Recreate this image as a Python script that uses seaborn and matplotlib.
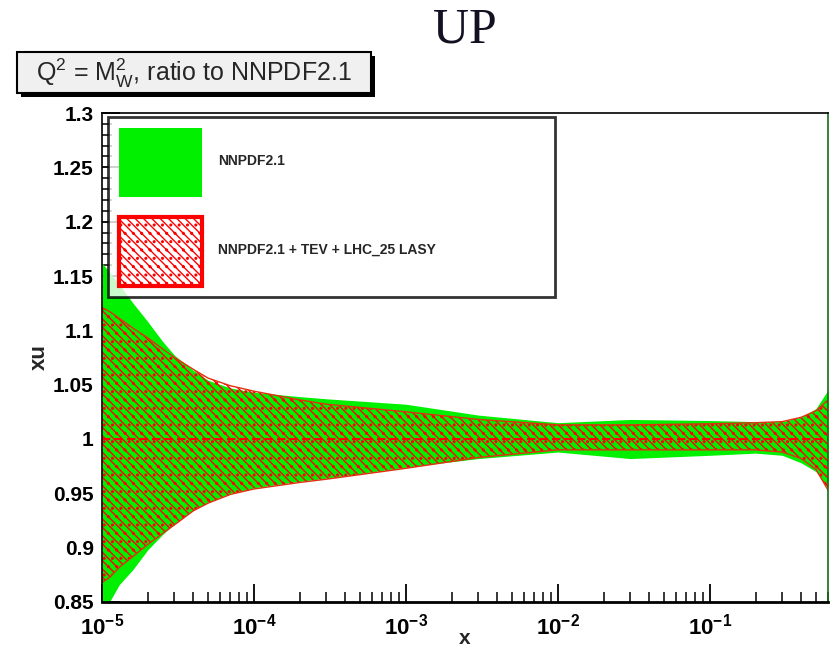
import numpy as np
import pandas as pd
import matplotlib
matplotlib.use("Agg")
import matplotlib.pyplot as plt
import seaborn as sns
from matplotlib.patches import Rectangle
from matplotlib.ticker import LogLocator, NullFormatter

# x grid and band edges (ratio to NNPDF2.1)
x_vals = [1e-5, 1.13e-5, 1.3e-5, 1.6e-5, 2e-5, 2.5e-5, 3e-5, 4e-5, 5e-5, 7e-5, 1e-4, 2e-4,
          3e-4, 1e-3, 3e-3, 1e-2, 3e-2, 0.1, 0.2, 0.3, 0.4, 0.5, 0.6]
nn21_up = [1.162, 1.153, 1.142, 1.125, 1.108, 1.090, 1.077, 1.063, 1.054, 1.047, 1.043, 1.039,
           1.037, 1.032, 1.022, 1.015, 1.018, 1.017, 1.016, 1.016, 1.020, 1.028, 1.045]
nn21_lo = [0.846, 0.851, 0.866, 0.880, 0.898, 0.912, 0.922, 0.935, 0.942, 0.950, 0.955, 0.961,
           0.964, 0.974, 0.982, 0.988, 0.982, 0.985, 0.987, 0.985, 0.978, 0.970, 0.955]
lasy_up = [1.121, 1.117, 1.111, 1.102, 1.093, 1.083, 1.075, 1.064, 1.056, 1.049, 1.044, 1.036,
           1.032, 1.025, 1.018, 1.013, 1.013, 1.014, 1.015, 1.016, 1.020, 1.026, 1.036]
lasy_lo = [0.868, 0.873, 0.882, 0.892, 0.903, 0.913, 0.921, 0.934, 0.941, 0.949, 0.954, 0.960,
           0.963, 0.973, 0.983, 0.990, 0.990, 0.990, 0.990, 0.988, 0.982, 0.972, 0.953]
central = [1.0] * len(x_vals)

labels = ["NNPDF2.1", "NNPDF2.1 + TEV + LHC_25 LASY"]
y_ticks = [0.85, 0.9, 0.95, 1.0, 1.05, 1.1, 1.15, 1.2, 1.25, 1.3]
y_ticklabels = ["0.85", "0.9", "0.95", "1", "1.05", "1.1", "1.15", "1.2", "1.25", "1.3"]
x_ticks = [1e-5, 1e-4, 1e-3, 1e-2, 1e-1]
x_ticklabels = [r"$\mathbf{10^{-5}}$", r"$\mathbf{10^{-4}}$", r"$\mathbf{10^{-3}}$",
                r"$\mathbf{10^{-2}}$", r"$\mathbf{10^{-1}}$"]

df = pd.DataFrame({"x": x_vals, "central": central,
                   "up": lasy_up, "lo": lasy_lo})

sns.set_theme(style="white")
plt.rcParams["font.family"] = ["Liberation Sans", "DejaVu Sans"]
plt.rcParams["mathtext.fontset"] = "custom"
plt.rcParams["mathtext.rm"] = "Liberation Sans"
plt.rcParams["mathtext.bf"] = "Liberation Sans:bold"
plt.rcParams["mathtext.it"] = "Liberation Sans:italic"
plt.rcParams["hatch.linewidth"] = 1.0

fig = plt.figure(figsize=(8.36, 6.5), dpi=100)
ax = fig.add_axes([102 / 836, 48 / 650, 726 / 836, 489 / 650])

green = ax.fill_between(x_vals, nn21_lo, nn21_up, color="#00f000", linewidth=0,
                        label=labels[0])
red = ax.fill_between(x_vals, lasy_lo, lasy_up, facecolor="none", edgecolor="#ff0000",
                      hatch="\\\\\\\\..", linewidth=0, label=labels[1])
sns.lineplot(data=df, x="x", y="up", ax=ax, color="#e03010", lw=1.0, legend=False)
sns.lineplot(data=df, x="x", y="lo", ax=ax, color="#e03010", lw=1.0, legend=False)
sns.lineplot(data=df, x="x", y="central", ax=ax, color="#ff0000", lw=1.5,
             linestyle=(0, (4, 2)), legend=False)

ax.set_xscale("log")
ax.set_xlim(1e-5, 0.6)
ax.set_ylim(0.85, 1.3)
ax.set_yticks(y_ticks)
ax.set_yticklabels(y_ticklabels)
ax.set_yticks(np.arange(0.85, 1.30001, 0.01), minor=True)
ax.set_xticks(x_ticks)
ax.set_xticklabels(x_ticklabels)
ax.xaxis.set_minor_locator(LogLocator(base=10, subs=np.arange(2, 10), numticks=20))
ax.xaxis.set_minor_formatter(NullFormatter())
ax.tick_params(axis="both", which="major", direction="in", length=13, width=1.3,
               labelsize=15, colors="black", bottom=True, left=True, top=False, right=False)
ax.tick_params(axis="both", which="minor", direction="in", length=7, width=1.3,
               bottom=True, left=True, top=False, right=False)
ax.tick_params(axis="x", which="major", labelsize=16, pad=8)
ax.tick_params(axis="y", which="major", pad=6)
for lab in ax.get_yticklabels():
    lab.set_fontweight("bold")
for sp in ax.spines.values():
    sp.set_color("black")
    sp.set_linewidth(1.2)
ax.spines["bottom"].set_linewidth(2)
ax.spines["right"].set_color("#1a6a1a")
ax.set_xlabel("x", fontsize=15, fontweight="bold", labelpad=-7)
ax.set_ylabel("xu", fontsize=16, fontweight="bold", labelpad=2)

leg = ax.legend(handles=[green, red], labels=labels, loc="upper left",
                bbox_to_anchor=(108 / 836, 1 - 117 / 650, 447 / 836, 0.0),
                bbox_transform=fig.transFigure, mode="expand",
                prop={"weight": "bold", "size": 10}, frameon=True, fancybox=False,
                handlelength=6.0, handleheight=7.2, labelspacing=1.5,
                borderpad=0.8, handletextpad=1.1, borderaxespad=0)
leg.get_frame().set_edgecolor("black")
leg.get_frame().set_linewidth(2)
leg.legend_handles[1].set_linewidth(3)

# title box with drop shadow
fig.patches.append(Rectangle((21 / 836, 1 - 97 / 650), 354 / 836, 41 / 650,
                             transform=fig.transFigure, facecolor="black",
                             edgecolor="none", zorder=1))
fig.patches.append(Rectangle((17 / 836, 1 - 93 / 650), 354 / 836, 41 / 650,
                             transform=fig.transFigure, facecolor="#f0f0f0",
                             edgecolor="black", linewidth=1.5, zorder=2))
fig.text(194 / 836, 1 - 73 / 650, r"Q$^{2}$ = M$_{\rm W}^{2}$, ratio to NNPDF2.1",
         ha="center", va="center", fontsize=18, zorder=3)
fig.text(465 / 836, 1 - 30 / 650, "UP", ha="center", va="center", fontsize=36,
         family=["Liberation Serif", "DejaVu Serif"], color="#111122")

fig.savefig("out.png", dpi=100)
